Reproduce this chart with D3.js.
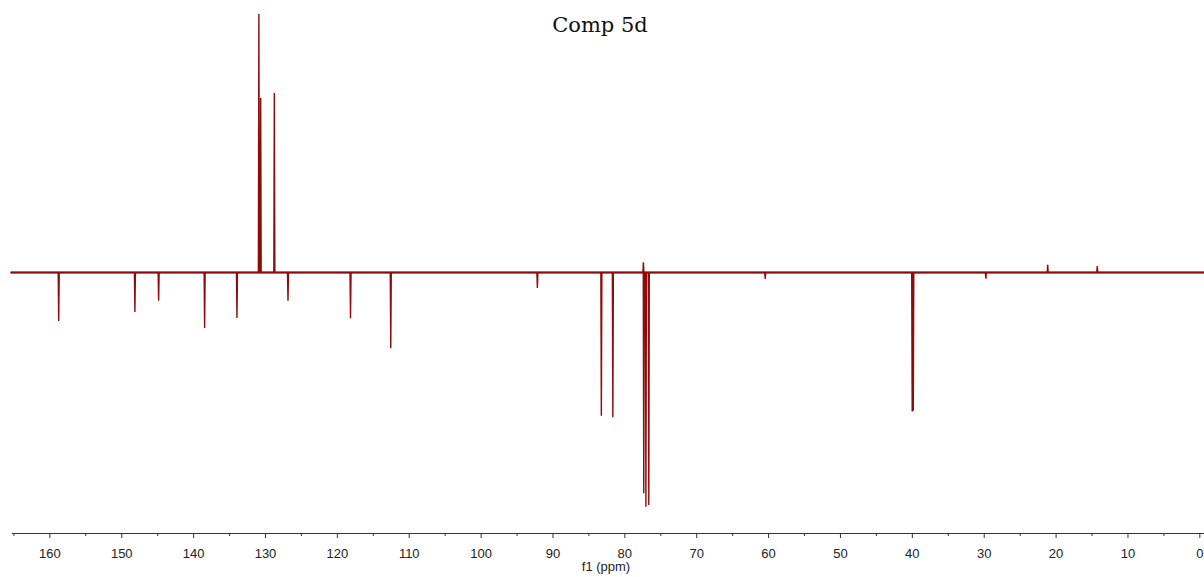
<!DOCTYPE html>
<html>
<head>
<meta charset="utf-8">
<script src="https://cdn.jsdelivr.net/npm/d3@7"></script>
<style>
  html, body { margin: 0; padding: 0; background: #fff; }
  svg { display: block; }
</style>
</head>
<body>
<svg id="chart" width="1204" height="577"></svg>
<script>
// Peak positions (ppm) and intensities (arbitrary units, baseline = 0, tallest = 100)
const peakPpm = [158.7, 148.1, 144.8, 138.4, 133.9, 130.85, 130.6, 128.7, 126.8, 118.1, 112.5, 92.1,
                 83.2, 81.6, 77.35, 77.3, 77.0, 76.6, 60.4, 39.95, 39.8, 29.7, 21.1, 14.2];
const peakIntensity = [-18.8, -15.3, -10.9, -21.5, -17.6, 100, 67.5, 69.4, -10.9, -17.7, -29.3, -6.0,
                 -55.4, -56.0, 4.0, -85.4, -90.6, -89.9, -2.5, -53.8, -53.5, -2.4, 3.0, 2.5];
const majorTicks = [160, 150, 140, 130, 120, 110, 100, 90, 80, 70, 60, 50, 40, 30, 20, 10, 0];
const minorTicks = [165, 155, 145, 135, 125, 115, 105, 95, 85, 75, 65, 55, 45, 35, 25, 15, 5];
const titleText = "Comp 5d";
const xLabel = "f1 (ppm)";

const svg = d3.select("#chart");
const x = d3.scaleLinear().domain([165.2, -0.65]).range([12, 1204]);
const y = d3.scaleLinear().domain([-100, 100]).range([531, 14]);
const lineColor = "#8f0a0a";
const sansFont = "'Liberation Sans', Arial, sans-serif";

// Title
svg.append("text")
  .attr("x", 600).attr("y", 32)
  .attr("text-anchor", "middle")
  .style("font-family", "Georgia, 'DejaVu Serif', 'Liberation Serif', serif")
  .style("font-size", "21px")
  .attr("fill", "#111")
  .text(titleText);

// Baseline
svg.append("line")
  .attr("x1", x(165.4)).attr("x2", 1204)
  .attr("y1", y(0)).attr("y2", y(0))
  .attr("stroke", lineColor).attr("stroke-width", 2.2);

// Spectrum peaks
const peaks = peakPpm.map((p, i) => ({ppm: p, h: peakIntensity[i]}));
const w = 0.07;
const pts = [];
pts.push([165.4, 0]);
peaks.slice().sort((a, b) => b.ppm - a.ppm).forEach(d => {
  pts.push([d.ppm + w, 0]);
  pts.push([d.ppm, d.h]);
  pts.push([d.ppm - w, 0]);
});
pts.push([-0.65, 0]);
const line = d3.line().x(d => x(d[0])).y(d => y(d[1]));
svg.append("path")
  .attr("d", line(pts))
  .attr("fill", "none")
  .attr("stroke", lineColor)
  .attr("stroke-width", 1.4)
  .attr("stroke-linejoin", "miter");

// Axis
const axisY = 533;
const axisG = svg.append("g").attr("transform", `translate(0,${axisY})`);
const axis = d3.axisBottom(x).tickValues(majorTicks).tickSize(5).tickSizeOuter(0).tickFormat(d3.format("d"));
axisG.call(axis);
axisG.select(".domain").attr("stroke", "#333").attr("d", `M12,0.5H1204`);
axisG.selectAll(".tick line").attr("stroke", "#333");
axisG.selectAll(".tick text")
  .attr("fill", "#222")
  .attr("dy", null)
  .attr("y", 25)
  .style("font-family", sansFont)
  .style("font-size", "13px");
axisG.selectAll(".minor")
  .data(minorTicks).enter().append("line")
  .attr("class", "minor")
  .attr("x1", d => x(d) + 0.5).attr("x2", d => x(d) + 0.5)
  .attr("y1", 0).attr("y2", 3)
  .attr("stroke", "#333");

svg.append("text")
  .attr("x", 606).attr("y", 571)
  .attr("text-anchor", "middle")
  .style("font-family", sansFont)
  .style("font-size", "13px")
  .attr("fill", "#222")
  .text(xLabel);
</script>
</body>
</html>
